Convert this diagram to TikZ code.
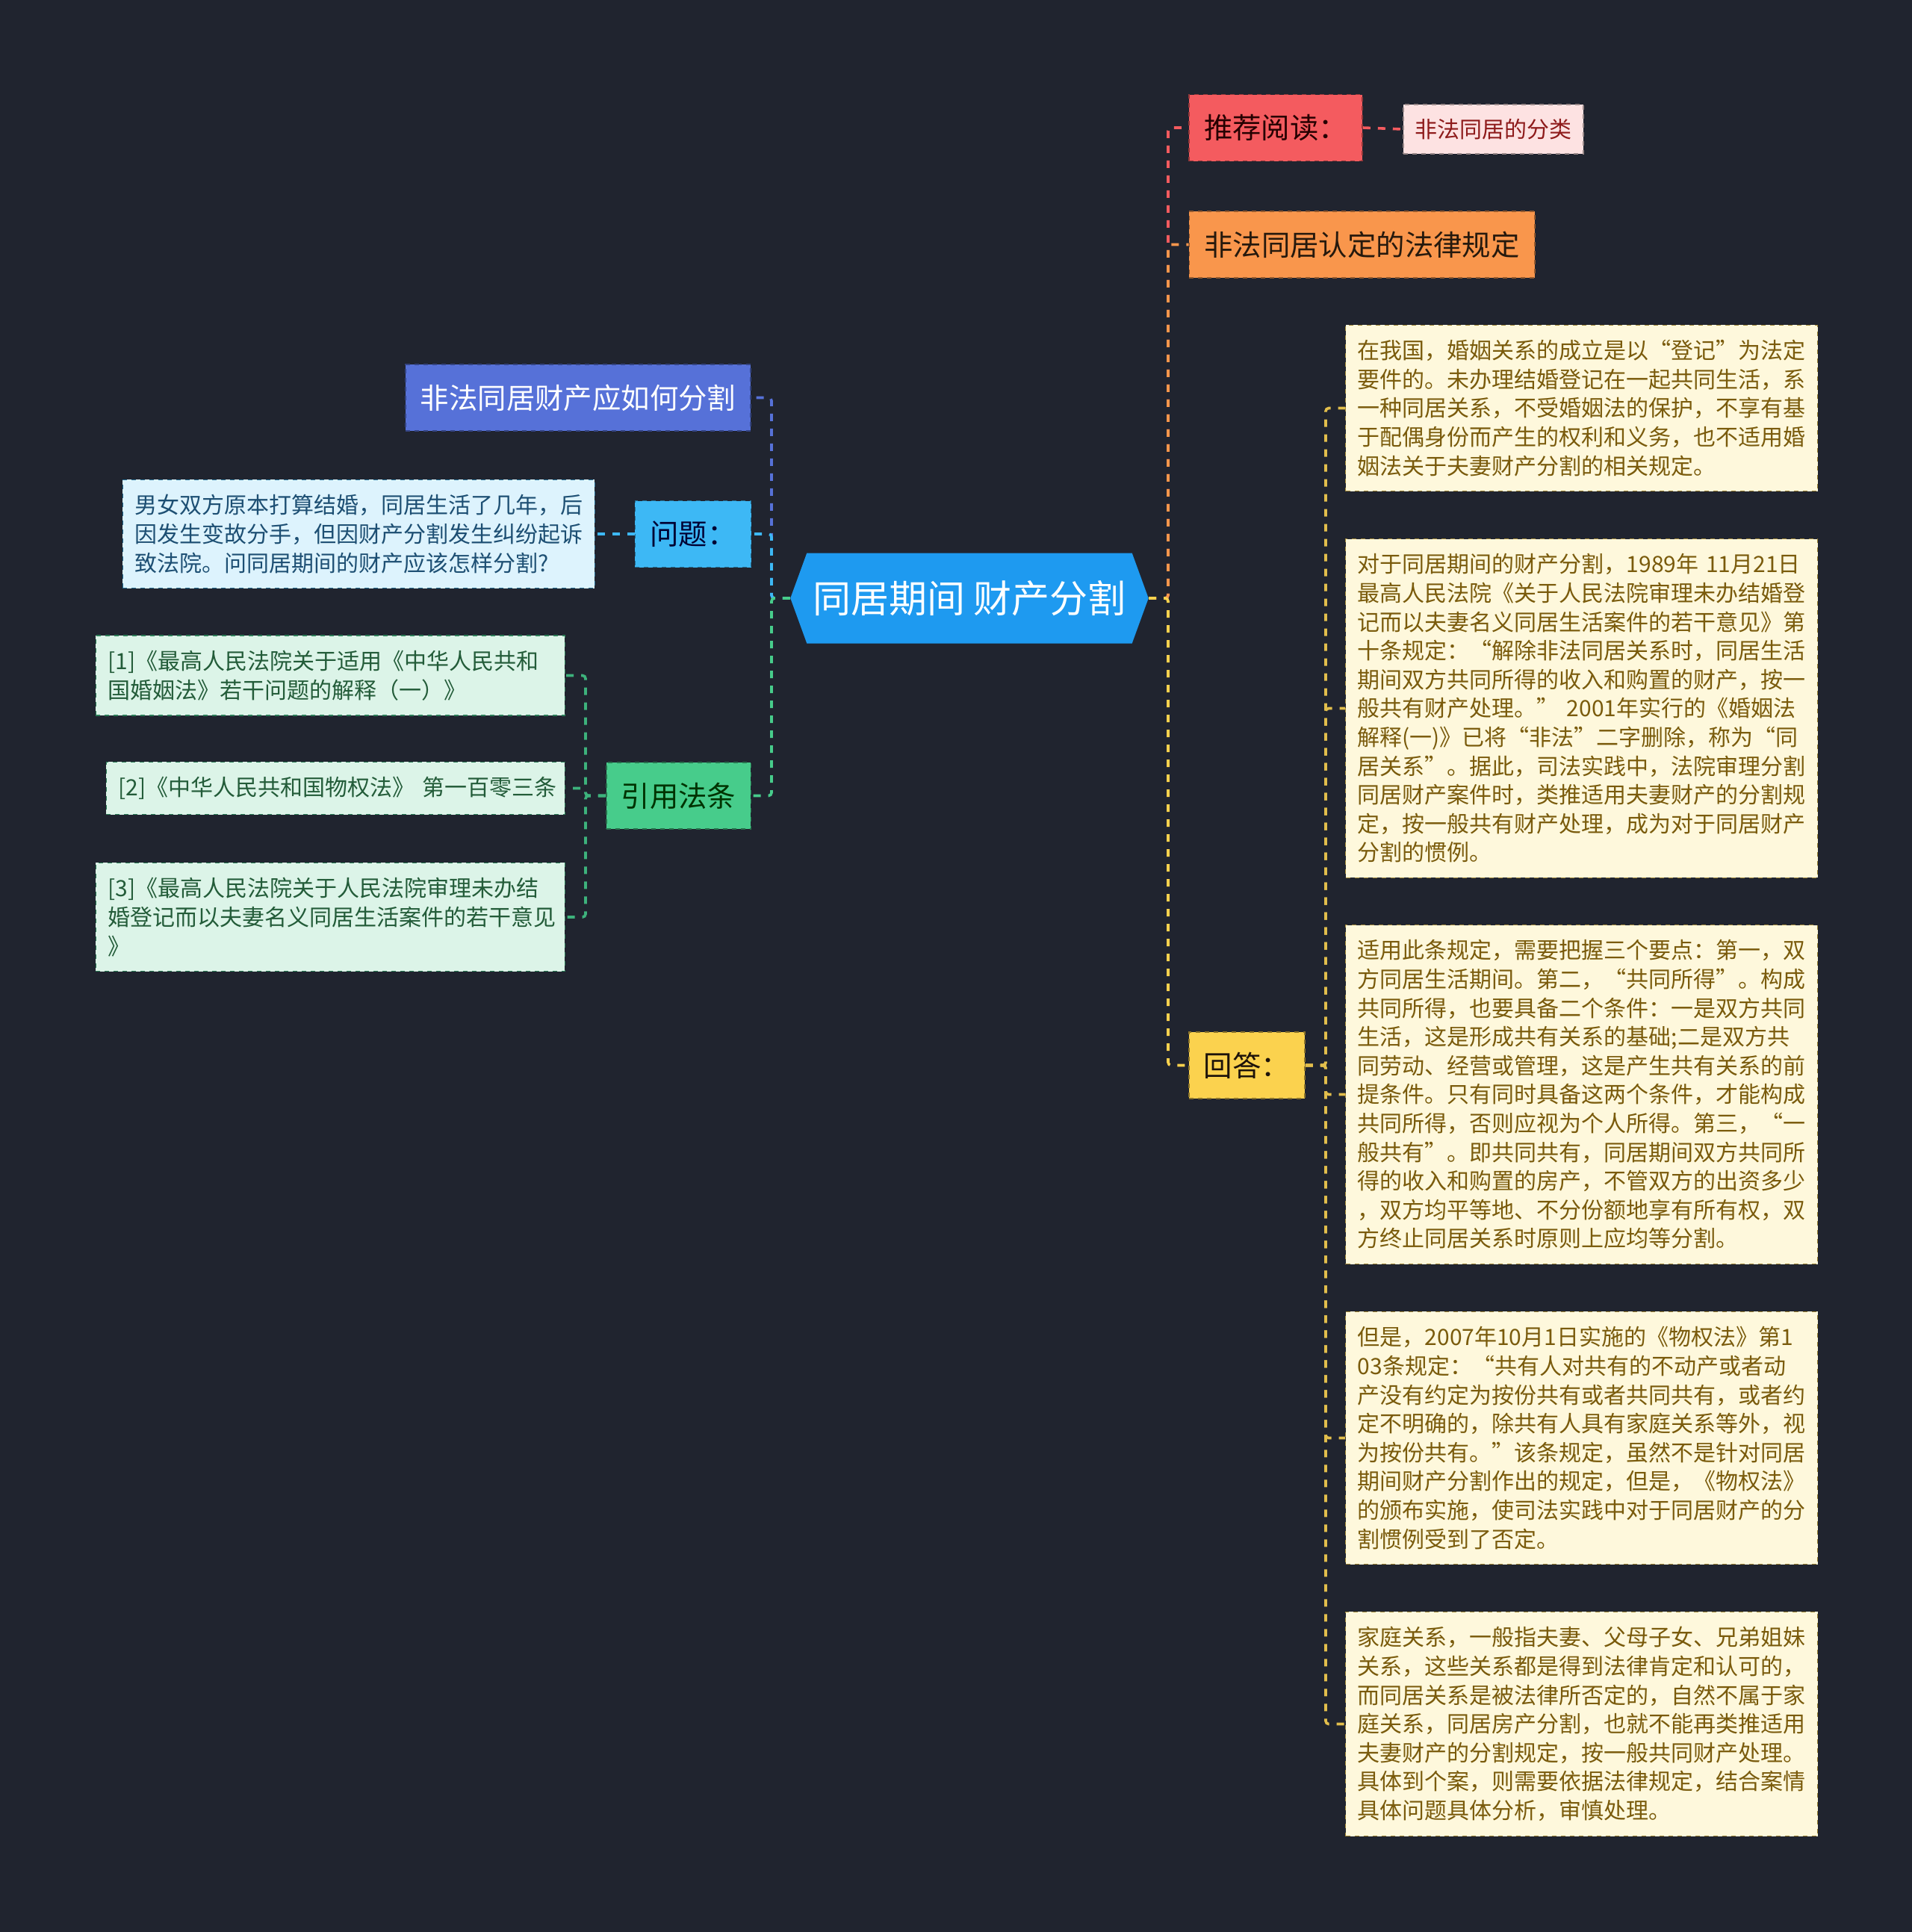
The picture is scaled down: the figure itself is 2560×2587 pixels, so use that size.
\documentclass[tikz,border=0pt]{standalone}
\usepackage{fontspec}
\setmainfont{Noto Sans CJK SC}
\usepackage{tikz}
\usetikzlibrary{shapes.symbols}
\definecolor{bg}{HTML}{20242F}
\definecolor{rootblue}{HTML}{1E9AF0}
\definecolor{readred}{HTML}{F45B5F}
\definecolor{readpink}{HTML}{FDE2E2}
\definecolor{readpinktext}{HTML}{8E1B1B}
\definecolor{laworange}{HTML}{F9964C}
\definecolor{ansyellow}{HTML}{FBD24E}
\definecolor{ansline}{HTML}{E2BE4C}
\definecolor{ansbox}{HTML}{FEF8DC}
\definecolor{anstext}{HTML}{7A5B0C}
\definecolor{splitblue}{HTML}{5671D8}
\definecolor{qblue}{HTML}{3DB8F5}
\definecolor{qbox}{HTML}{DDF3FD}
\definecolor{qtext}{HTML}{1D4F73}
\definecolor{citegreen}{HTML}{47CC8B}
\definecolor{citeline}{HTML}{3DB27C}
\definecolor{citebox}{HTML}{DCF4E8}
\definecolor{citetext}{HTML}{235C39}
\tikzstyle{topic} = [draw, dashed, line width=0.8pt, minimum height=44.5pt, inner xsep=10pt, inner ysep=0pt, font=\fontsize{19.2pt}{23pt}\selectfont]
\tikzstyle{textbox} = [draw, dashed, line width=0.7pt, inner xsep=8pt, inner ysep=10pt, text width=300pt, align=left, font=\fontsize{15pt}{19.3pt}\selectfont]
\tikzstyle{link} = [line width=1.8pt, dash pattern=on 5pt off 5pt, rounded corners=2pt]

\begin{document}
\begin{tikzpicture}[x=0.5pt, y=-0.5pt]
	\fill[bg] (0,0) rectangle (2560,2587);
	\useasboundingbox (0,0) rectangle (2560,2587);

	\node[signal, signal to=west and east, signal pointer angle=140, fill=rootblue, text=white, minimum height=60.5pt, minimum width=238pt, inner xsep=4pt, font=\fontsize{25.5pt}{30pt}\selectfont](root) at (1298, 801){同居期间 财产分割};

	\node[topic, fill=readred, draw=readred!60!black, text=black!85!red](read) at (1708, 171){推荐阅读：};
	\node[topic, fill=readpink, draw=readpink!60!black, text=readpinktext, minimum height=33pt, inner xsep=7.75pt, font=\fontsize{15pt}{18pt}\selectfont](readitem) at (1999.5, 173){非法同居的分类};
	\node[topic, fill=laworange, draw=laworange!60!black, text=black!80!brown](lawrule) at (1823.5, 327.5){非法同居认定的法律规定};
	\node[topic, fill=ansyellow, draw=ansyellow!55!black, text=black!85!brown](answer) at (1669.5, 1426.5){回答：};

	\node[textbox, fill=ansbox, draw=ansline!70!black, text=anstext, anchor=west](ans1) at (1801, 546.5){在我国，婚姻关系的成立是以“登记”为法定\\要件的。未办理结婚登记在一起共同生活，系\\一种同居关系，不受婚姻法的保护，不享有基\\于配偶身份而产生的权利和义务，也不适用婚\\姻法关于夫妻财产分割的相关规定。};
	\node[textbox, fill=ansbox, draw=ansline!70!black, text=anstext, anchor=west](ans2) at (1801, 948.5){对于同居期间的财产分割，1989年 11月21日\\最高人民法院《关于人民法院审理未办结婚登\\记而以夫妻名义同居生活案件的若干意见》第\\十条规定：“解除非法同居关系时，同居生活\\期间双方共同所得的收入和购置的财产，按一\\般共有财产处理。” 2001年实行的《婚姻法\\解释(一)》已将“非法”二字删除，称为“同\\居关系”。据此，司法实践中，法院审理分割\\同居财产案件时，类推适用夫妻财产的分割规\\定，按一般共有财产处理，成为对于同居财产\\分割的惯例。};
	\node[textbox, fill=ansbox, draw=ansline!70!black, text=anstext, anchor=west](ans3) at (1801, 1465.5){适用此条规定，需要把握三个要点：第一，双\\方同居生活期间。第二，“共同所得”。构成\\共同所得，也要具备二个条件：一是双方共同\\生活，这是形成共有关系的基础;二是双方共\\同劳动、经营或管理，这是产生共有关系的前\\提条件。只有同时具备这两个条件，才能构成\\共同所得，否则应视为个人所得。第三，“一\\般共有”。即共同共有，同居期间双方共同所\\得的收入和购置的房产，不管双方的出资多少\\，双方均平等地、不分份额地享有所有权，双\\方终止同居关系时原则上应均等分割。};
	\node[textbox, fill=ansbox, draw=ansline!70!black, text=anstext, anchor=west](ans4) at (1801, 1925.5){但是，2007年10月1日实施的《物权法》第1\\03条规定：“共有人对共有的不动产或者动\\产没有约定为按份共有或者共同共有，或者约\\定不明确的，除共有人具有家庭关系等外，视\\为按份共有。”该条规定，虽然不是针对同居\\期间财产分割作出的规定，但是，《物权法》\\的颁布实施，使司法实践中对于同居财产的分\\割惯例受到了否定。};
	\node[textbox, fill=ansbox, draw=ansline!70!black, text=anstext, anchor=west](ans5) at (1801, 2308.5){家庭关系，一般指夫妻、父母子女、兄弟姐妹\\关系，这些关系都是得到法律肯定和认可的，\\而同居关系是被法律所否定的，自然不属于家\\庭关系，同居房产分割，也就不能再类推适用\\夫妻财产的分割规定，按一般共同财产处理。\\具体到个案，则需要依据法律规定，结合案情\\具体问题具体分析，审慎处理。};

	\node[topic, fill=splitblue, draw=splitblue!60!black, text=white](howsplit) at (774, 532.5){非法同居财产应如何分割};
	\node[topic, fill=qblue, draw=qblue!60!black, text=black!80!blue](question) at (928, 715){问题：};
	\node[textbox, fill=qbox, draw=qblue!60!black, text=qtext, anchor=east](qdetail) at (797, 715){男女双方原本打算结婚，同居生活了几年，后\\因发生变故分手，但因财产分割发生纠纷起诉\\致法院。问同居期间的财产应该怎样分割?};
	\node[topic, fill=citegreen, draw=citegreen!55!black, text=black!80!green](cite) at (908.5, 1065.5){引用法条};
	\node[textbox, fill=citebox, draw=citeline!70!black, text=citetext, anchor=east, text width=298pt](cite1) at (757, 904.5){[1]《最高人民法院关于适用《中华人民共和\\国婚姻法》若干问题的解释（一）》};
	\node[textbox, fill=citebox, draw=citeline!70!black, text=citetext, anchor=east, text width=291pt](cite2) at (757, 1055.5){\mbox{[2]《中华人民共和国物权法》 第一百零三条}};
	\node[textbox, fill=citebox, draw=citeline!70!black, text=citetext, anchor=east, text width=298pt](cite3) at (757, 1228){[3]《最高人民法院关于人民法院审理未办结\\婚登记而以夫妻名义同居生活案件的若干意见\\》};

	\coordinate (rtrunk) at (1564, 801);
	\coordinate (ltrunk) at (1033, 801);
	\coordinate (atrunk) at (1775, 1426.5);
	\coordinate (ctrunk) at (784, 1065.5);

	\draw[link, readred](root.east) -- (rtrunk) |- (read.west);
	\draw[link, readred](read.east) -- (readitem.west);
	\draw[link, laworange](root.east) -- (rtrunk) |- (lawrule.west);
	\draw[link, ansyellow](root.east) -- (rtrunk) |- (answer.west);
	\draw[link, ansline](answer.east) -- (atrunk) |- (ans1.west);
	\draw[link, ansline](answer.east) -- (atrunk) |- (ans2.west);
	\draw[link, ansline](answer.east) -- (atrunk) |- (ans3.west);
	\draw[link, ansline](answer.east) -- (atrunk) |- (ans4.west);
	\draw[link, ansline](answer.east) -- (atrunk) |- (ans5.west);

	\draw[link, splitblue](root.west) -- (ltrunk) |- (howsplit.east);
	\draw[link, qblue](root.west) -- (ltrunk) |- (question.east);
	\draw[link, qblue](question.west) -- (qdetail.east);
	\draw[link, citegreen](root.west) -- (ltrunk) |- (cite.east);
	\draw[link, citeline](cite.west) -- (ctrunk) |- (cite1.east);
	\draw[link, citeline](cite.west) -- (ctrunk) |- (cite2.east);
	\draw[link, citeline](cite.west) -- (ctrunk) |- (cite3.east);
\end{tikzpicture}
\end{document}
